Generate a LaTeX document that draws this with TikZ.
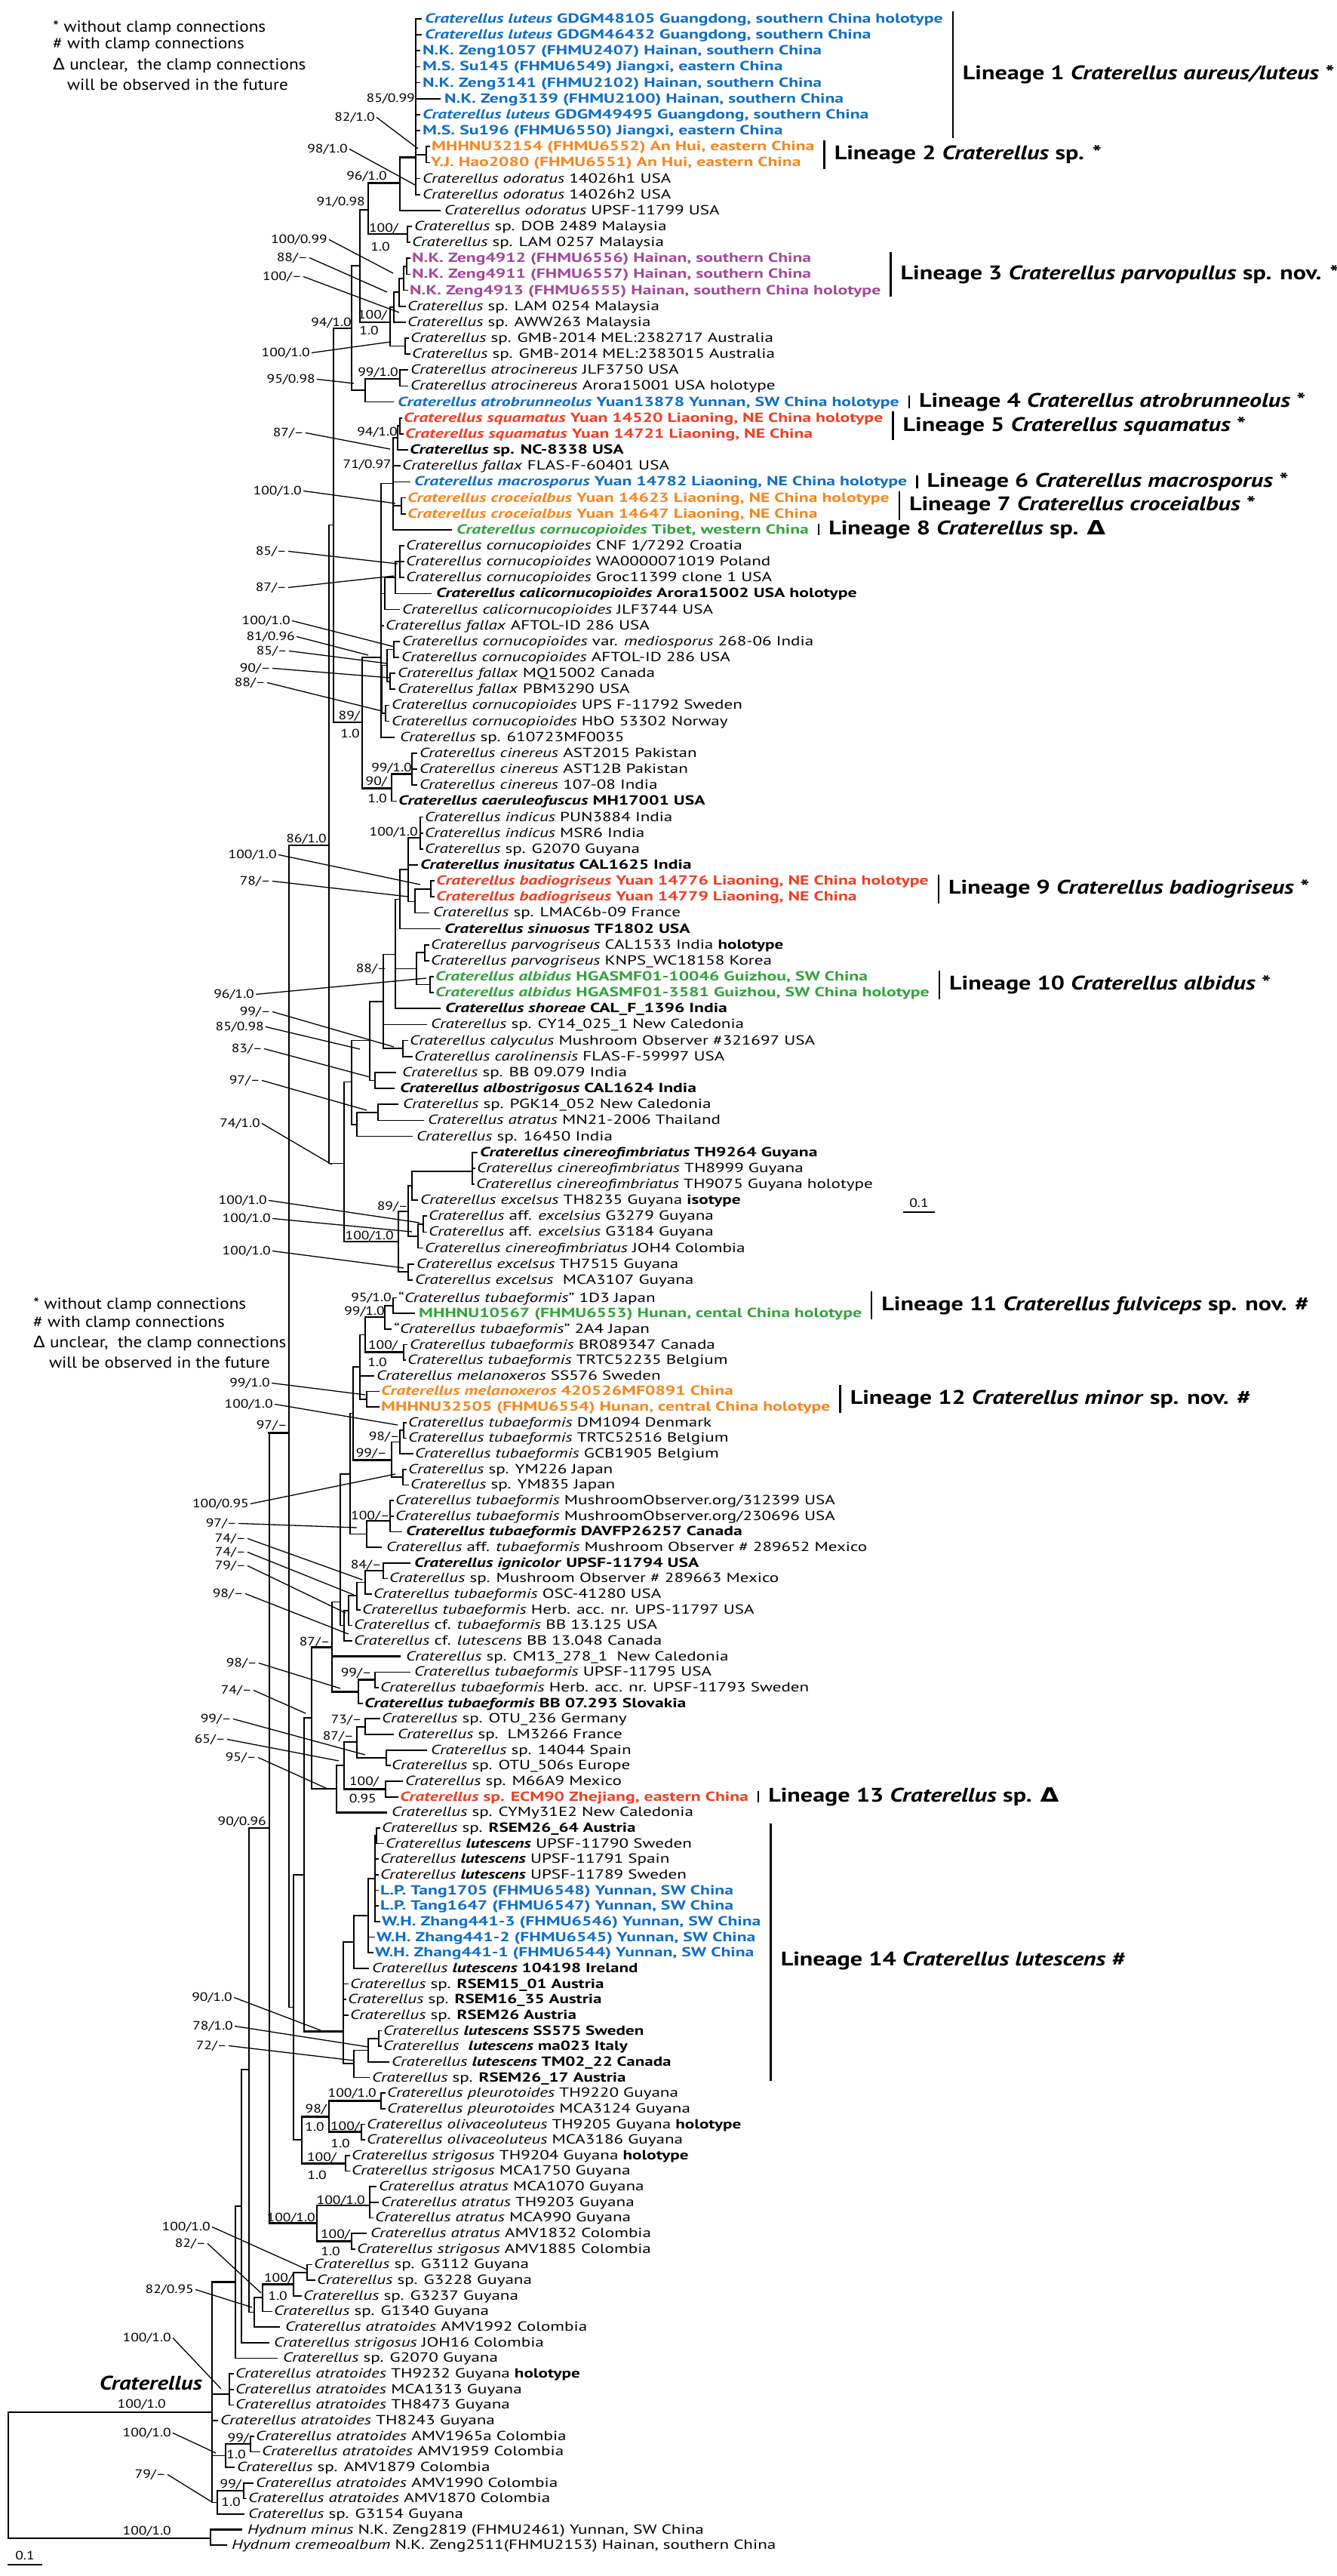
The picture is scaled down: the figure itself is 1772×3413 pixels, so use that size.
\documentclass[tikz,border=0pt]{standalone}
\usepackage{graphicx}
\usepackage{fontspec}
\setmainfont{PT Sans}
\newfontfamily\dejav{DejaVu Sans}
\definecolor{cblue}{RGB}{16,110,196}
\definecolor{corange}{RGB}{246,134,30}
\definecolor{cpurple}{RGB}{163,72,154}
\definecolor{cred}{RGB}{238,62,36}
\definecolor{cgreen}{RGB}{52,162,62}
\pgfmathdeclarefunction{ru}{1}{\pgfmathparse{25+(#1-1)*21.15}}
\pgfmathdeclarefunction{rl}{1}{\pgfmathparse{1719.5+(#1-1)*20.66}}
\newcommand\txf{\fontsize{17.5}{20}\selectfont}
\newcommand\spf{\fontsize{16}{18}\selectfont}
\newcommand\lbf{\fontsize{26}{29}\selectfont\bfseries}
\newcommand\lgf{\fontsize{21}{24}\selectfont}
\newcommand\gnf{\fontsize{26}{29}\selectfont\bfseries\itshape}
\newcommand\dl{{\dejav Δ}}
\newcommand\Cr{\textit{Craterellus}}
\newlength\cwa \newlength\cwb \newlength\cwc \newlength\cwd \newlength\cwe \newlength\cwf
\newcommand\bvu[3]{\draw[br] (#1,{ru(#2)}) -- (#1,{ru(#3)});}
\newcommand\bhu[3]{\draw[br] (#2,{ru(#1)}) -- (#3,{ru(#1)});}
\newcommand\bvl[3]{\draw[br] (#1,{rl(#2)}) -- (#1,{rl(#3)});}
\newcommand\bhl[3]{\draw[br] (#2,{rl(#1)}) -- (#3,{rl(#1)});}
\newcommand\tu[4]{\node[tx,text=#3] (u#1) at (#2,{ru(#1)+5.5}) {\scalebox{\sca}[1]{#4}};}
\newcommand\tub[4]{\node[tx,text=#3] (u#1) at (#2,{ru(#1)+5.5}) {\scalebox{\scb}[1]{\bfseries #4}};}
\newcommand\tl[4]{\node[tx,text=#3] (l#1) at (#2,{rl(#1)+5.5}) {\scalebox{\sca}[1]{#4}};}
\newcommand\tlb[4]{\node[tx,text=#3] (l#1) at (#2,{rl(#1)+5.5}) {\scalebox{\scb}[1]{\bfseries #4}};}
\newcommand\sv[4]{\node[sp] (#1) at (#2,{#3+5}) {\scalebox{\scc}[1]{#4}};}
\newcommand\ldr[3]{\draw[ld] ([xshift=2pt]#1.east) -- (#2,#3);}
\newcommand\lin[6]{%
 \path (#2.east) ++(13,0) coordinate (bx#1);
 \coordinate (bt#1) at (0,#3); \coordinate (bb#1) at (0,#4); \coordinate (bm#1) at (0,#5);
 \draw[lbar] (bx#1 |- bt#1) -- (bx#1 |- bb#1);
 \path (bx#1) ++(13,0) coordinate (lx#1);
 \node[lb] (lin#1) at (lx#1 |- bm#1) {\scalebox{\scd}[1]{#6}};}
\tikzset{
 br/.style={line width=1.7pt, line cap=rect},
 thk/.style={line width=2.7pt, line cap=rect},
 ld/.style={line width=1.3pt},
 tx/.style={anchor=base west, inner sep=0pt, font=\txf},
 sp/.style={anchor=base east, inner sep=0pt, font=\spf},
 lb/.style={anchor=west, inner sep=0pt, font=\lbf},
 lg/.style={anchor=base west, inner sep=0pt, font=\lgf},
 lbar/.style={line width=2.4pt}
}
\begin{document}
\settowidth\cwa{\txf\textit{Craterellus cornucopioides} var. \textit{mediosporus} 268-06 India\Cr{} sp. GMB-2014 MEL:2382717 Australia}
\pgfmathsetmacro\sca{1026/\cwa}
\settowidth\cwb{\txf\bfseries N.K. Zeng1057 (FHMU2407) Hainan, southern China\textit{Craterellus squamatus} Yuan 14721 Liaoning, NE China}
\pgfmathsetmacro\scb{1069/\cwb}
\settowidth\cwc{\spf 85/0.99100/0.9991/0.98}
\pgfmathsetmacro\scc{203/\cwc}
\settowidth\cwd{\lbf Lineage 13}
\pgfmathsetmacro\scd{153/\cwd}
\settowidth\cwe{\lgf * without clamp connections}
\pgfmathsetmacro\sce{282/\cwe}
\settowidth\cwf{\gnf Craterellus}
\pgfmathsetmacro\scf{136/\cwf}
\begin{tikzpicture}[x=1pt,y=-1pt]
\useasboundingbox[fill=white] (0,0) rectangle (1772,3413);
% ---------- legends
\node[lg] (lga1) at (70,42) {\scalebox{\sce}[1]{* without clamp connections}};
\node[lg] (lga2) at (70,64) {\scalebox{\sce}[1]{\# with clamp connections}};
\node[lg] (lga3) at (70,92) {\scalebox{\sce}[1]{\dl\ unclear,\ \ the clamp connections}};
\node[lg] (lga4) at (89,119) {\scalebox{\sce}[1]{will be observed in the future}};
\node[lg] (lgb1) at (44,1734) {\scalebox{\sce}[1]{* without clamp connections}};
\node[lg] (lgb2) at (44,1758) {\scalebox{\sce}[1]{\# with clamp connections}};
\node[lg] (lgb3) at (44,1785) {\scalebox{\sce}[1]{\dl\ unclear,\ \ the clamp connections}};
\node[lg] (lgb4) at (65,1812) {\scalebox{\sce}[1]{will be observed in the future}};
% ---------- upper tree branches
\bvu{551}{1}{12}
\bhu{1}{551}{558} \bhu{2}{551}{558}
\bhu{3}{551}{556} \bhu{4}{551}{556} \bhu{5}{551}{556} \bhu{7}{551}{556} \bhu{8}{551}{556}
\bhu{6}{551}{583}
\bvu{565}{9}{10} \bhu{9.5}{551}{565} \bhu{9}{565}{569} \bhu{10}{565}{569}
\bhu{11}{551}{556} \bhu{12}{551}{556}
\draw[thk] (530,{ru(9.66)}) -- (551,{ru(9.66)});
\bvu{530}{9.66}{13} \bhu{13}{530}{583}
\draw[thk] (488,{ru(11.3)}) -- (530,{ru(11.3)});
\bvu{488}{11.3}{14.48} \bhu{14.48}{488}{540}
\bvu{540}{14}{15} \bhu{14}{540}{545} \bhu{15}{540}{543}
\bhu{12.96}{477}{488}
\bvu{477}{12.96}{20} \bhu{20}{477}{517}
\bvu{539}{16}{17} \bhu{16}{539}{543} \bhu{17}{539}{543}
\bvu{535}{16.5}{18} \bhu{16.5}{535}{539} \bhu{18}{535}{540}
\bvu{529}{17.25}{19} \bhu{17.25}{529}{535} \bhu{19}{529}{537}
\bvu{522}{18.1}{20} \bhu{18.1}{522}{529} \bhu{20}{522}{537}
\bvu{537}{21}{22} \bhu{21}{537}{541} \bhu{22}{537}{543}
\bvu{517}{19.05}{21.5} \bhu{19.05}{517}{522} \bhu{21.5}{517}{537}
\draw[thk] (442,{ru(20.39)}) -- (466,{ru(20.39)});
\bvu{466}{16.46}{24.26} \bhu{16.46}{466}{477} \bhu{24.26}{466}{484}
\bvu{484}{23.55}{25} \bhu{23.55}{484}{530} \bhu{25}{484}{521}
\bvu{530}{23}{24} \bhu{23}{530}{540} \bhu{24}{530}{540}
\bvu{442}{20.39}{45.07} \bhu{45.07}{442}{480}
\bhu{32.7}{436}{442}
\bvu{530}{26}{27} \bhu{26}{530}{532} \bhu{27}{530}{534}
\bvu{527}{26.5}{28} \bhu{26.5}{527}{530} \bhu{28}{527}{540}
\bvu{521}{27.25}{33} \bhu{27.25}{521}{527} \bhu{29}{521}{530} \bhu{30}{521}{543}
\bvu{532}{31}{32} \bhu{31}{532}{537} \bhu{32}{532}{537} \bhu{31.5}{521}{532}
\bhu{33}{521}{598}
\bhu{30.1}{505}{521}
\bvu{530}{34}{36} \bhu{34}{530}{535} \bhu{35}{530}{535} \bhu{36}{530}{535}
\bvu{524}{35}{37} \bhu{35}{524}{530} \bhu{37}{524}{571}
\bvu{510}{36}{38} \bhu{36}{510}{524} \bhu{38}{510}{529}
\bhu{39}{505}{508}
\bvu{522}{40}{41} \bhu{40}{522}{529} \bhu{41}{522}{528}
\bvu{517}{42}{43} \bhu{42}{517}{523} \bhu{43}{517}{523}
\bvu{511}{44}{45} \bhu{44}{511}{515} \bhu{45}{511}{515}
\bvu{513}{40.5}{42.5} \bhu{40.5}{513}{522} \bhu{42.5}{513}{517}
\bvu{506}{41.5}{44.5} \bhu{41.5}{506}{513} \bhu{44.5}{506}{511}
\bhu{37}{505}{510} \bhu{43}{505}{506}
\bhu{46}{505}{522}
\bvu{505}{30.1}{46}
\bhu{41}{480}{505}
\bvu{480}{41}{49.2}
\bvu{546}{47}{49} \bhu{47}{546}{552} \bhu{48}{546}{552} \bhu{49}{546}{552}
\draw[thk] (519,{ru(48.3)}) -- (546,{ru(48.3)});
\bvu{519}{48.3}{50} \bhu{50}{519}{525}
\draw[thk] (480,{ru(49.2)}) -- (519,{ru(49.2)});
\bvu{436}{32.7}{72.7}
\draw[thk] (383,{ru(52.77)}) -- (436,{ru(52.77)});
\bvu{557}{51}{53} \bhu{51}{557}{560} \bhu{52}{557}{560} \bhu{53}{557}{560}
\draw[thk] (541,{ru(52.3)}) -- (557,{ru(52.3)});
\bhu{54}{541}{553}
\bvu{571}{55}{56} \bhu{55}{571}{575} \bhu{56}{571}{575}
\bhu{55.5}{550}{571}
\bhu{57}{550}{568}
\bvu{550}{55.5}{57} \bhu{56.3}{541}{550}
\bvu{541}{52.3}{56.3}
\bhu{54.3}{530}{541}
\bvu{530}{54.3}{58} \bhu{58}{530}{583}
\bhu{56.15}{524}{530}
\bvu{563}{59}{60} \bhu{59}{563}{568} \bhu{60}{563}{568}
\bvu{570}{61}{62} \bhu{61}{570}{574} \bhu{62}{570}{574}
\bvu{552}{59.5}{61.5} \bhu{59.5}{552}{563} \bhu{61.5}{552}{570}
\bhu{60.5}{524}{552}
\bvu{524}{56.15}{63} \bhu{63}{524}{583}
\bhu{59.6}{508}{524}
\bhu{64}{508}{565}
\bvu{534}{65}{66} \bhu{65}{534}{540} \bhu{66}{534}{546}
\bhu{65.5}{508}{534}
\bvu{508}{59.6}{65.5}
\bhu{62.55}{490}{508}
\bvu{497}{67}{68} \bhu{67}{497}{524} \bhu{68}{497}{522}
\bhu{67.5}{490}{497}
\bvu{490}{62.55}{67.5}
\bhu{65}{466}{490}
\bvu{501}{69}{70} \bhu{69}{501}{527} \bhu{70}{501}{561}
\bhu{69.5}{473}{501}
\bhu{71}{473}{546}
\bvu{473}{69.5}{71}
\bhu{70.25}{466}{473}
\bvu{466}{65}{70.25}
\bhu{67.6}{456}{466}
\bvu{456}{67.6}{77.6}
\bhu{72.7}{436}{456}
\draw[thk] (456,{ru(77.6)}) -- (528,{ru(77.6)});
\bvu{626}{72}{74} \bhu{72}{626}{632} \bhu{73}{626}{629} \bhu{74}{626}{628}
\draw[thk] (546,{ru(73.2)}) -- (626,{ru(73.2)});
\bhu{75}{546}{553}
\bvu{546}{73.2}{75}
\bhu{74.1}{541}{546}
\bvu{561}{76}{77} \bhu{76}{561}{565} \bhu{77}{561}{565}
\bhu{76.5}{554}{561}
\bhu{78}{554}{560}
\bvu{554}{76.5}{78}
\bhu{77.25}{541}{554}
\bvu{541}{74.1}{77.25}
\bhu{75.7}{528}{541}
\bvu{541}{79}{80} \bhu{79}{541}{548} \bhu{80}{541}{546}
\bhu{79.5}{528}{541}
\bvu{528}{75.7}{79.5}
\draw[br] (383,{ru(52.77)}) -- (383,{rl(46.5)});
% ---------- lower tree branches
\bvl{521}{1}{2} \bhl{1}{521}{525} \bhl{2}{521}{549}
\bvl{510}{1.5}{3} \bhl{1.5}{510}{521} \bhl{3}{510}{518}
\bvl{535}{4}{5} \bhl{4}{535}{539} \bhl{5}{535}{537}
\draw[thk] (484,{rl(4.5)}) -- (535,{rl(4.5)});
\bvl{484}{2.25}{4.5} \bhl{2.25}{484}{510}
\bhl{6}{477}{495}
\bvl{486}{7}{8} \bhl{7}{486}{502} \bhl{8}{486}{502}
\bhl{7.5}{477}{486}
\bvl{477}{3.375}{7.5} \bhl{3.375}{477}{484}
\bvl{535}{9}{10} \bhl{9}{535}{538} \bhl{10}{535}{538}
\bhl{9.5}{530}{535}
\bhl{11}{530}{547}
\bvl{530}{9.5}{11}
\bhl{10.25}{519}{530}
\bvl{534}{12}{13} \bhl{12}{534}{538} \bhl{13}{534}{541}
\bhl{12.5}{519}{534}
\bvl{519}{10.25}{12.5}
\draw[thk] (468,{rl(11.4)}) -- (519,{rl(11.4)});
\bvl{468}{5.44}{11.4} \bhl{5.44}{468}{477}
\bvl{464}{8.4}{16.15} \bhl{8.4}{464}{468}
\bvl{517}{14}{16} \bhl{14}{517}{521} \bhl{15}{517}{521} \bhl{16}{517}{532}
\draw[thk] (486,{rl(15.3)}) -- (517,{rl(15.3)});
\bvl{486}{15.3}{17} \bhl{17}{486}{505}
\bhl{16.15}{464}{486}
\bvl{508}{18}{19} \bhl{18}{508}{543} \bhl{19}{508}{513}
\draw[thk] (484,{rl(18.5)}) -- (508,{rl(18.5)});
\bvl{484}{18.5}{20} \bhl{20}{484}{492}
\bhl{19.25}{473}{484}
\bvl{473}{19.25}{21} \bhl{21}{473}{477}
\bhl{20.1}{462}{473}
\bvl{462}{20.1}{22} \bhl{22}{462}{466}
\bhl{21.05}{456}{462}
\bvl{456}{21.05}{23} \bhl{23}{456}{466}
\bhl{22}{451}{456}
\bvl{451}{12.3}{22} \bhl{12.3}{451}{464}
\bhl{20.5}{440}{451}
\draw[thk] (440,{rl(24)}) -- (530,{rl(24)});
\bvl{497}{25}{26} \bhl{25}{497}{543} \bhl{26}{497}{501}
\draw[thk] (475,{rl(25.5)}) -- (497,{rl(25.5)});
\bvl{475}{25.5}{27} \bhl{27}{475}{480}
\draw[thk] (440,{rl(26.25)}) -- (475,{rl(26.25)});
\bvl{440}{20.5}{26.25}
\draw[thk] (413,{rl(23.4)}) -- (440,{rl(23.4)});
\bvl{484}{28}{29} \bhl{28}{484}{503} \bhl{29}{484}{521}
\bvl{512}{30}{31} \bhl{30}{512}{565} \bhl{31}{512}{517}
\bvl{473}{28.5}{30.5} \bhl{28.5}{473}{484} \bhl{30.5}{473}{512}
\bhl{29.5}{456}{473}
\bvl{511}{32}{33} \bhl{32}{511}{533} \bhl{33}{511}{527}
\draw[thk] (456,{rl(32.5)}) -- (511,{rl(32.5)});
\bvl{456}{29.5}{32.5}
\bhl{31}{446}{456}
\draw[thk] (446,{rl(34)}) -- (512,{rl(34)});
\bvl{446}{31}{34}
\bhl{32.5}{413}{446}
\bvl{413}{23.4}{32.5}
\bhl{27.95}{403}{413}
\bvl{499}{35}{36} \bhl{35}{499}{503} \bhl{36}{499}{508}
\bvl{497}{35.5}{41} \bhl{35.5}{497}{499}
\bhl{37}{497}{501} \bhl{38}{497}{501} \bhl{39}{497}{501} \bhl{40}{497}{501} \bhl{41}{497}{503}
\bvl{488}{38.25}{43} \bhl{38.25}{488}{497} \bhl{42}{488}{496} \bhl{43}{488}{494}
\bvl{469}{40.6}{44} \bhl{40.6}{469}{488} \bhl{44}{469}{488}
\bhl{45}{455}{461} \bhl{46}{455}{458} \bhl{47}{455}{461}
\bvl{502}{48}{49} \bhl{48}{502}{505} \bhl{49}{502}{505}
\bvl{488}{48.5}{50} \bhl{48.5}{488}{502} \bhl{50}{488}{515}
\bvl{469}{49.25}{51} \bhl{49.25}{469}{488} \bhl{51}{469}{489}
\bvl{455}{42.3}{50.1} \bhl{42.3}{455}{469} \bhl{50.1}{455}{469}
\draw[thk] (403,{rl(48.05)}) -- (455,{rl(48.05)});
\bvl{403}{27.95}{48.05}
\bhl{38}{389}{403}
\bvl{505}{52}{53} \bhl{52}{505}{510} \bhl{53}{505}{510}
\draw[thk] (436,{rl(52.5)}) -- (505,{rl(52.5)});
\bvl{479}{54}{55} \bhl{54}{479}{483} \bhl{55}{479}{483}
\draw[thk] (436,{rl(54.5)}) -- (479,{rl(54.5)});
\bvl{436}{52.5}{54.5}
\draw[thk] (400,{rl(53.5)}) -- (436,{rl(53.5)});
\bvl{458}{56}{57} \bhl{56}{458}{463} \bhl{57}{458}{463}
\draw[thk] (400,{rl(56.5)}) -- (458,{rl(56.5)});
\bvl{400}{53.5}{56.5}
\bhl{55}{389}{400}
\bvl{389}{38}{55}
\bhl{46.5}{383}{389}
\draw[thk] (356,{rl(9.65)}) -- (383,{rl(9.65)});
\bvl{357}{9.65}{60.35}
\bvl{490}{58}{60} \bhl{58}{490}{498} \bhl{59}{490}{501} \bhl{60}{490}{494}
\draw[thk] (420,{rl(59.2)}) -- (490,{rl(59.2)});
\bvl{466}{61}{62} \bhl{61}{466}{485} \bhl{62}{466}{470}
\draw[thk] (420,{rl(61.5)}) -- (466,{rl(61.5)});
\bvl{420}{59.2}{61.5}
\draw[thk] (357,{rl(60.35)}) -- (420,{rl(60.35)});
\draw[thk] (330,{rl(35)}) -- (357,{rl(35)});
\bvl{330}{35}{66.05}
\bvl{407}{63}{64} \bhl{63}{407}{413} \bhl{64}{407}{417}
\bhl{63.5}{389}{407}
\bvl{389}{63.5}{65} \bhl{65}{389}{399}
\draw[thk] (348,{rl(64.25)}) -- (389,{rl(64.25)});
\bvl{348}{64.25}{66} \bhl{66}{348}{360}
\bhl{65.1}{337}{348}
\bvl{337}{65.1}{67} \bhl{67}{337}{370}
\bhl{66.05}{330}{337}
\bhl{50.5}{320}{330}
\bvl{320}{50.5}{68} \bhl{68}{320}{356}
\bhl{59.25}{312}{320}
\bvl{312}{59.25}{69} \bhl{69}{312}{367}
\draw[thk] (281,{rl(64.1)}) -- (312,{rl(64.1)});
\bvl{304}{70}{72} \bhl{70}{304}{309} \bhl{71}{304}{309} \bhl{72}{304}{309}
\draw[thk] (281,{rl(71.3)}) -- (304,{rl(71.3)});
\bhl{73}{281}{288}
\bvl{332}{74}{75} \bhl{74}{332}{336} \bhl{75}{332}{344}
\draw[thk] (299,{rl(74.5)}) -- (332,{rl(74.5)});
\bvl{299}{74.5}{76} \bhl{76}{299}{310}
\bhl{75.25}{281}{299}
\bvl{323}{77}{78} \bhl{77}{323}{335} \bhl{78}{323}{326}
\draw[thk] (288,{rl(77.5)}) -- (323,{rl(77.5)});
\bvl{288}{77.5}{79} \draw[thk] (288,{rl(79)}) -- (323,{rl(79)});
\bhl{78.25}{281}{288}
\bvl{281}{64.1}{78.25}
\draw[thk] (11,3196) -- (281,3196);
\draw[thk] (11,{rl(80.55)}) -- (279,{rl(80.55)});
\draw[br] (11,3196) -- (11,{rl(80.55)});
\bvl{279}{80}{81} \draw[thk] (279,{rl(80)}) -- (320,{rl(80)}); \bhl{81}{279}{300}
\draw[thk] (11,3398) -- (55,3398);
\node[sp, anchor=base] (scl) at (33,3391) {\scalebox{\scc}[1]{0.1}};
\draw[thk] (1198,1606) -- (1238,1606);
\node[sp, anchor=base] (scu) at (1218,1599) {\scalebox{\scc}[1]{0.1}};
\node[anchor=base east, inner sep=0pt, font=\gnf] (gen) at (268,3166) {\scalebox{\scf}[1]{Craterellus}};
% ---------- upper taxa
\tub{1}{563}{cblue}{\textit{Craterellus luteus} GDGM48105 Guangdong, southern China holotype}
\tub{2}{563}{cblue}{\textit{Craterellus luteus} GDGM46432 Guangdong, southern China}
\tub{3}{560}{cblue}{N.K. Zeng1057 (FHMU2407) Hainan, southern China}
\tub{4}{560}{cblue}{M.S. Su145 (FHMU6549) Jiangxi, eastern China}
\tub{5}{560}{cblue}{N.K. Zeng3141 (FHMU2102) Hainan, southern China}
\tub{6}{589}{cblue}{N.K. Zeng3139 (FHMU2100) Hainan, southern China}
\tub{7}{560}{cblue}{\textit{Craterellus luteus} GDGM49495 Guangdong, southern China}
\tub{8}{560}{cblue}{M.S. Su196 (FHMU6550) Jiangxi, eastern China}
\tub{9}{572}{corange}{MHHNU32154 (FHMU6552) An Hui, eastern China}
\tub{10}{571}{corange}{Y.J. Hao2080 (FHMU6551) An Hui, eastern China}
\tu{11}{560}{black}{\textit{Craterellus odoratus} 14026h1 USA}
\tu{12}{560}{black}{\textit{Craterellus odoratus} 14026h2 USA}
\tu{13}{589}{black}{\textit{Craterellus odoratus} UPSF-11799 USA}
\tu{14}{549}{black}{\Cr{} sp. DOB 2489 Malaysia}
\tu{15}{546}{black}{\Cr{} sp. LAM 0257 Malaysia}
\tub{16}{546}{cpurple}{N.K. Zeng4912 (FHMU6556) Hainan, southern China}
\tub{17}{546}{cpurple}{N.K. Zeng4911 (FHMU6557) Hainan, southern China}
\tub{18}{543}{cpurple}{N.K. Zeng4913 (FHMU6555) Hainan, southern China holotype}
\tu{19}{540}{black}{\Cr{} sp. LAM 0254 Malaysia}
\tu{20}{540}{black}{\Cr{} sp. AWW263 Malaysia}
\tu{21}{544}{black}{\Cr{} sp. GMB-2014 MEL:2382717 Australia}
\tu{22}{546}{black}{\Cr{} sp. GMB-2014 MEL:2383015 Australia}
\tu{23}{544}{black}{\textit{Craterellus atrocinereus} JLF3750 USA}
\tu{24}{544}{black}{\textit{Craterellus atrocinereus} Arora15001 USA holotype}
\tub{25}{527}{cblue}{\textit{Craterellus atrobrunneolus} Yuan13878 Yunnan, SW China holotype}
\tub{26}{535}{cred}{\textit{Craterellus squamatus} Yuan 14520 Liaoning, NE China holotype}
\tub{27}{537}{cred}{\textit{Craterellus squamatus} Yuan 14721 Liaoning, NE China}
\tub{28}{543}{black}{\Cr{} sp. NC-8338 USA}
\tu{29}{533}{black}{\textit{Craterellus fallax} FLAS-F-60401 USA}
\tub{30}{549}{cblue}{\textit{Craterellus macrosporus} Yuan 14782 Liaoning, NE China holotype}
\tub{31}{540}{corange}{\textit{Craterellus croceialbus} Yuan 14623 Liaoning, NE China holotype}
\tub{32}{540}{corange}{\textit{Craterellus croceialbus} Yuan 14647 Liaoning, NE China}
\tub{33}{605}{cgreen}{\textit{Craterellus cornucopioides} Tibet, western China}
\tu{34}{538}{black}{\textit{Craterellus cornucopioides} CNF 1/7292 Croatia}
\tu{35}{538}{black}{\textit{Craterellus cornucopioides} WA0000071019 Poland}
\tu{36}{538}{black}{\textit{Craterellus cornucopioides} Groc11399 clone 1 USA}
\tub{37}{578}{black}{\textit{Craterellus calicornucopioides} Arora15002 USA holotype}
\tu{38}{533}{black}{\textit{Craterellus calicornucopioides} JLF3744 USA}
\tu{39}{511}{black}{\textit{Craterellus fallax} AFTOL-ID 286 USA}
\tu{40}{533}{black}{\textit{Craterellus cornucopioides} var. \textit{mediosporus} 268-06 India}
\tu{41}{532}{black}{\textit{Craterellus cornucopioides} AFTOL-ID 286 USA}
\tu{42}{527}{black}{\textit{Craterellus fallax} MQ15002 Canada}
\tu{43}{527}{black}{\textit{Craterellus fallax} PBM3290 USA}
\tu{44}{519}{black}{\textit{Craterellus cornucopioides} UPS F-11792 Sweden}
\tu{45}{519}{black}{\textit{Craterellus cornucopioides} HbO 53302 Norway}
\tu{46}{530}{black}{\Cr{} sp. 610723MF0035}
\tu{47}{556}{black}{\textit{Craterellus cinereus} AST2015 Pakistan}
\tu{48}{556}{black}{\textit{Craterellus cinereus} AST12B Pakistan}
\tu{49}{556}{black}{\textit{Craterellus cinereus} 107-08 India}
\tub{50}{528}{black}{\textit{Craterellus caeruleofuscus} MH17001 USA}
\tu{51}{563}{black}{\textit{Craterellus indicus} PUN3884 India}
\tu{52}{563}{black}{\textit{Craterellus indicus} MSR6 India}
\tu{53}{563}{black}{\Cr{} sp. G2070 Guyana}
\tub{54}{557}{black}{\textit{Craterellus inusitatus} CAL1625 India}
\tub{55}{578}{cred}{\textit{Craterellus badiogriseus} Yuan 14776 Liaoning, NE China holotype}
\tub{56}{578}{cred}{\textit{Craterellus badiogriseus} Yuan 14779 Liaoning, NE China}
\tu{57}{574}{black}{\Cr{} sp. LMAC6b-09 France}
\tub{58}{589}{black}{\textit{Craterellus sinuosus} TF1802 USA}
\tu{59}{571}{black}{\textit{Craterellus parvogriseus} CAL1533 India \textbf{holotype}}
\tu{60}{571}{black}{\textit{Craterellus parvogriseus} KNPS\_WC18158 Korea}
\tub{61}{577}{cgreen}{\textit{Craterellus albidus} HGASMF01-10046 Guizhou, SW China}
\tub{62}{577}{cgreen}{\textit{Craterellus albidus} HGASMF01-3581 Guizhou, SW China holotype}
\tub{63}{590}{black}{\textit{Craterellus shoreae} CAL\_F\_1396 India}
\tu{64}{571}{black}{\Cr{} sp. CY14\_025\_1 New Caledonia}
\tu{65}{543}{black}{\textit{Craterellus calyculus} Mushroom Observer \#321697 USA}
\tu{66}{549}{black}{\textit{Craterellus carolinensis} FLAS-F-59997 USA}
\tu{67}{533}{black}{\Cr{} sp. BB 09.079 India}
\tub{68}{530}{black}{\textit{Craterellus albostrigosus} CAL1624 India}
\tu{69}{534}{black}{\Cr{} sp. PGK14\_052 New Caledonia}
\tu{70}{567}{black}{\textit{Craterellus atratus} MN21-2006 Thailand}
\tu{71}{552}{black}{\Cr{} sp. 16450 India}
\tub{72}{636}{black}{\textit{Craterellus cinereofimbriatus} TH9264 Guyana}
\tu{73}{632}{black}{\textit{Craterellus cinereofimbriatus} TH8999 Guyana}
\tu{74}{631}{black}{\textit{Craterellus cinereofimbriatus} TH9075 Guyana holotype}
\tu{75}{557}{black}{\textit{Craterellus excelsus} TH8235 Guyana \textbf{isotype}}
\tu{76}{568}{black}{\Cr{} aff. \textit{excelsius} G3279 Guyana}
\tu{77}{568}{black}{\Cr{} aff. \textit{excelsius} G3184 Guyana}
\tu{78}{563}{black}{\textit{Craterellus cinereofimbriatus} JOH4 Colombia}
\tu{79}{552}{black}{\textit{Craterellus excelsus} TH7515 Guyana}
\tu{80}{550}{black}{\textit{Craterellus excelsus}\ \ MCA3107 Guyana}
% ---------- lower taxa
\tl{1}{528}{black}{“\textit{Craterellus tubaeformis}” 1D3 Japan}
\tlb{2}{555}{cgreen}{MHHNU10567 (FHMU6553) Hunan, cental China holotype}
\tl{3}{522}{black}{“\textit{Craterellus tubaeformis}” 2A4 Japan}
\tl{4}{543}{black}{\textit{Craterellus tubaeformis} BR089347 Canada}
\tl{5}{540}{black}{\textit{Craterellus tubaeformis} TRTC52235 Belgium}
\tl{6}{499}{black}{\textit{Craterellus melanoxeros} SS576 Sweden}
\tlb{7}{505}{corange}{\textit{Craterellus melanoxeros} 420526MF0891 China}
\tlb{8}{505}{corange}{MHHNU32505 (FHMU6554) Hunan, central China holotype}
\tl{9}{541}{black}{\textit{Craterellus tubaeformis} DM1094 Denmark}
\tl{10}{541}{black}{\textit{Craterellus tubaeformis} TRTC52516 Belgium}
\tl{11}{550}{black}{\textit{Craterellus tubaeformis} GCB1905 Belgium}
\tl{12}{541}{black}{\Cr{} sp. YM226 Japan}
\tl{13}{544}{black}{\Cr{} sp. YM835 Japan}
\tl{14}{524}{black}{\textit{Craterellus tubaeformis} MushroomObserver.org/312399 USA}
\tl{15}{524}{black}{\textit{Craterellus tubaeformis} MushroomObserver.org/230696 USA}
\tlb{16}{538}{black}{\textit{Craterellus tubaeformis} DAVFP26257 Canada}
\tl{17}{512}{black}{\Cr{} aff. \textit{tubaeformis} Mushroom Observer \# 289652 Mexico}
\tlb{18}{549}{black}{\textit{Craterellus ignicolor} UPSF-11794 USA}
\tl{19}{516}{black}{\Cr{} sp. Mushroom Observer \# 289663 Mexico}
\tl{20}{495}{black}{\textit{Craterellus tubaeformis} OSC-41280 USA}
\tl{21}{480}{black}{\textit{Craterellus tubaeformis} Herb. acc. nr. UPS-11797 USA}
\tl{22}{469}{black}{\Cr{} cf. \textit{tubaeformis} BB 13.125 USA}
\tl{23}{469}{black}{\Cr{} cf. \textit{lutescens} BB 13.048 Canada}
\tl{24}{538}{black}{\Cr{} sp. CM13\_278\_1\ \ New Caledonia}
\tl{25}{549}{black}{\textit{Craterellus tubaeformis} UPSF-11795 USA}
\tl{26}{504}{black}{\textit{Craterellus tubaeformis} Herb. acc. nr. UPSF-11793 Sweden}
\tlb{27}{483}{black}{\textit{Craterellus tubaeformis} BB 07.293 Slovakia}
\tl{28}{506}{black}{\Cr{} sp. OTU\_236 Germany}
\tl{29}{527}{black}{\Cr{} sp.\ \ LM3266 France}
\tl{30}{571}{black}{\Cr{} sp. 14044 Spain}
\tl{31}{519}{black}{\Cr{} sp. OTU\_506s Europe}
\tl{32}{537}{black}{\Cr{} sp. M66A9 Mexico}
\tlb{33}{530}{cred}{\Cr{} sp. ECM90 Zhejiang, eastern China}
\tl{34}{519}{black}{\Cr{} sp. CYMy31E2 New Caledonia}
\tl{35}{506}{black}{\Cr{} sp. \textbf{RSEM26\_64 Austria}}
\tl{36}{511}{black}{\Cr{} \textbf{\textit{lutescens}} UPSF-11790 Sweden}
\tl{37}{504}{black}{\Cr{} \textbf{\textit{lutescens}} UPSF-11791 Spain}
\tl{38}{504}{black}{\Cr{} \textbf{\textit{lutescens}} UPSF-11789 Sweden}
\tlb{39}{504}{cblue}{L.P. Tang1705 (FHMU6548) Yunnan, SW China}
\tlb{40}{504}{cblue}{L.P. Tang1647 (FHMU6547) Yunnan, SW China}
\tlb{41}{506}{cblue}{W.H. Zhang441-3 (FHMU6546) Yunnan, SW China}
\tlb{42}{499}{cblue}{W.H. Zhang441-2 (FHMU6545) Yunnan, SW China}
\tlb{43}{497}{cblue}{W.H. Zhang441-1 (FHMU6544) Yunnan, SW China}
\tl{44}{493}{black}{\Cr{} \textbf{\textit{lutescens} 104198 Ireland}}
\tl{45}{464}{black}{\Cr{} sp. \textbf{RSEM15\_01 Austria}}
\tl{46}{461}{black}{\Cr{} sp. \textbf{RSEM16\_35 Austria}}
\tl{47}{464}{black}{\Cr{} sp. \textbf{RSEM26 Austria}}
\tl{48}{508}{black}{\Cr{} \textbf{\textit{lutescens} SS575 Sweden}}
\tl{49}{508}{black}{\Cr{}\ \ \textbf{\textit{lutescens} ma023 Italy}}
\tl{50}{519}{black}{\Cr{} \textbf{\textit{lutescens} TM02\_22 Canada}}
\tl{51}{493}{black}{\Cr{} sp. \textbf{RSEM26\_17 Austria}}
\tl{52}{513}{black}{\textit{Craterellus pleurotoides} TH9220 Guyana}
\tl{53}{513}{black}{\textit{Craterellus pleurotoides} MCA3124 Guyana}
\tl{54}{486}{black}{\textit{Craterellus olivaceoluteus} TH9205 Guyana \textbf{holotype}}
\tl{55}{486}{black}{\textit{Craterellus olivaceoluteus} MCA3186 Guyana}
\tl{56}{466}{black}{\textit{Craterellus strigosus} TH9204 Guyana \textbf{holotype}}
\tl{57}{466}{black}{\textit{Craterellus strigosus} MCA1750 Guyana}
\tl{58}{502}{black}{\textit{Craterellus atratus} MCA1070 Guyana}
\tl{59}{505}{black}{\textit{Craterellus atratus} TH9203 Guyana}
\tl{60}{497}{black}{\textit{Craterellus atratus} MCA990 Guyana}
\tl{61}{491}{black}{\textit{Craterellus atratus} AMV1832 Colombia}
\tl{62}{473}{black}{\textit{Craterellus strigosus} AMV1885 Colombia}
\tl{63}{416}{black}{\Cr{} sp. G3112 Guyana}
\tl{64}{420}{black}{\Cr{} sp. G3228 Guyana}
\tl{65}{402}{black}{\Cr{} sp. G3237 Guyana}
\tl{66}{363}{black}{\Cr{} sp. G1340 Guyana}
\tl{67}{378}{black}{\textit{Craterellus atratoides} AMV1992 Colombia}
\tl{68}{363}{black}{\textit{Craterellus strigosus} JOH16 Colombia}
\tl{69}{375}{black}{\Cr{} sp. G2070 Guyana}
\tl{70}{312}{black}{\textit{Craterellus atratoides} TH9232 Guyana \textbf{holotype}}
\tl{71}{312}{black}{\textit{Craterellus atratoides} MCA1313 Guyana}
\tl{72}{312}{black}{\textit{Craterellus atratoides} TH8473 Guyana}
\tl{73}{292}{black}{\textit{Craterellus atratoides} TH8243 Guyana}
\tl{74}{339}{black}{\textit{Craterellus atratoides} AMV1965a Colombia}
\tl{75}{347}{black}{\textit{Craterellus atratoides} AMV1959 Colombia}
\tl{76}{314}{black}{\Cr{} sp. AMV1879 Colombia}
\tl{77}{339}{black}{\textit{Craterellus atratoides} AMV1990 Colombia}
\tl{78}{329}{black}{\textit{Craterellus atratoides} AMV1870 Colombia}
\tl{79}{329}{black}{\Cr{} sp. G3154 Guyana}
\tl{80}{328}{black}{\textit{Hydnum minus} N.K. Zeng2819 (FHMU2461) Yunnan, SW China}
\tl{81}{307}{black}{\textit{Hydnum cremeoalbum} N.K. Zeng2511(FHMU2153) Hainan, southern China}
% ---------- support values upper
\sv{s1}{550}{130}{85/0.99}
\sv{s2}{497}{155}{82/1.0} \ldr{s2}{554}{197}
\sv{s3}{461}{197}{98/1.0} \ldr{s3}{550}{245}
\sv{s4}{513}{233}{96/1.0}
\sv{s5}{484}{267}{91/0.98}
\sv{s6}{528}{302}{100/}
\sv{s7}{517}{327}{1.0}
\sv{s8}{434}{317}{100/0.99} \ldr{s8}{521}{362}
\sv{s9}{408}{341}{88/–} \ldr{s9}{513}{387}
\sv{s10}{400}{366}{100/–} \ldr{s10}{529}{414}
\sv{s11}{513}{417}{100/}
\sv{s12}{502}{438}{1.0}
\sv{s13}{466}{427}{94/1.0}
\sv{s14}{411}{467}{100/1.0} \ldr{s14}{517}{453}
\sv{s15}{528}{493}{99/1.0}
\sv{s16}{418}{502}{95/0.98} \ldr{s16}{469}{508}
\sv{s17}{527}{572}{94/1.0}
\sv{s18}{403}{573}{87/–} \ldr{s18}{517}{595}
\sv{s19}{519}{615}{71/0.97}
\sv{s20}{400}{650}{100/1.0} \ldr{s20}{524}{667}
\sv{s21}{380}{730}{85/–} \ldr{s21}{527}{747}
\sv{s22}{380}{778}{87/–} \ldr{s22}{522}{763}
\sv{s23}{385}{822}{100/1.0} \ldr{s23}{523}{857}
\sv{s24}{391}{843}{81/0.96} \ldr{s24}{488}{868}
\sv{s25}{381}{862}{85/–} \ldr{s25}{513}{879}
\sv{s26}{359}{885}{90/–} \ldr{s26}{517}{898}
\sv{s27}{352}{904}{88/–} \ldr{s27}{506}{942}
\sv{s28}{477}{948}{89/}
\sv{s29}{477}{972}{1.0}
\sv{s30}{546}{1017}{99/1.0}
\sv{s31}{513}{1035}{90/}
\sv{s32}{513}{1058}{1.0}
\sv{s33}{554}{1102}{100/1.0}
\sv{s34}{433}{1111}{86/1.0}
\sv{s35}{367}{1132}{100/1.0} \ldr{s35}{557}{1172}
\sv{s36}{359}{1167}{78/–} \ldr{s36}{541}{1188}
\sv{s37}{513}{1283}{88/–}
\sv{s38}{337}{1317}{96/1.0} \ldr{s38}{565}{1296}
\sv{s39}{359}{1340}{99/–} \ldr{s39}{522}{1387}
\sv{s40}{350}{1360}{85/0.98} \ldr{s40}{477}{1390}
\sv{s41}{348}{1389}{83/–} \ldr{s41}{490}{1427}
\sv{s42}{345}{1431}{97/–} \ldr{s42}{486}{1471}
\sv{s43}{345}{1488}{74/1.0} \ldr{s43}{440}{1543}
\sv{s44}{541}{1598}{89/–}
\sv{s45}{354}{1590}{100/1.0} \ldr{s45}{556}{1620}
\sv{s46}{359}{1614}{100/1.0} \ldr{s46}{546}{1632}
\sv{s47}{522}{1637}{100/1.0}
\sv{s48}{359}{1657}{100/1.0} \ldr{s48}{535}{1680}
% ---------- support values lower
\sv{s49}{519}{1719}{95/1.0}
\sv{s50}{510}{1737}{99/1.0}
\sv{s51}{527}{1782}{100/}
\sv{s52}{513}{1805}{1.0}
\sv{s53}{358}{1832}{99/1.0} \ldr{s53}{484}{1848}
\sv{s54}{362}{1860}{100/1.0} \ldr{s54}{527}{1888}
\sv{s55}{381}{1888}{97/–}
\sv{s56}{530}{1903}{98/–}
\sv{s57}{513}{1925}{99/–}
\sv{s58}{330}{1992}{100/0.95} \ldr{s58}{524}{1953}
\sv{s59}{517}{2008}{100/–}
\sv{s60}{314}{2018}{97/–} \ldr{s60}{473}{2024}
\sv{s61}{326}{2038}{74/–} \ldr{s61}{480}{2093}
\sv{s62}{326}{2056}{74/–} \ldr{s62}{469}{2113}
\sv{s63}{506}{2073}{84/–}
\sv{s64}{326}{2074}{79/–} \ldr{s64}{458}{2137}
\sv{s65}{323}{2111}{98/–} \ldr{s65}{462}{2165}
\sv{s66}{438}{2175}{87/–}
\sv{s67}{341}{2203}{98/–} \ldr{s67}{451}{2237}
\sv{s68}{493}{2216}{99/–}
\sv{s69}{334}{2239}{74/–} \ldr{s69}{405}{2270}
\sv{s70}{307}{2277}{99/–} \ldr{s70}{484}{2325}
\sv{s71}{480}{2278}{73/–}
\sv{s72}{469}{2300}{87/–}
\sv{s73}{299}{2304}{65/–} \ldr{s73}{449}{2333}
\sv{s74}{340}{2328}{95/–} \ldr{s74}{434}{2370}
\sv{s75}{502}{2360}{100/}
\sv{s76}{499}{2383}{0.95}
\sv{s77}{353}{2413}{90/0.96}
\sv{s78}{308}{2646}{90/1.0} \ldr{s78}{425}{2690}
\sv{s79}{309}{2684}{78/1.0} \ldr{s79}{488}{2712}
\sv{s80}{301}{2710}{72/–} \ldr{s80}{469}{2730}
\sv{s81}{499}{2773}{100/1.0}
\sv{s82}{433}{2794}{98/}
\sv{s83}{430}{2818}{1.0}
\sv{s84}{477}{2817}{100/}
\sv{s85}{464}{2840}{1.0}
\sv{s86}{446}{2858}{100/}
\sv{s87}{433}{2882}{1.0}
\sv{s88}{484}{2915}{100/1.0}
\sv{s89}{418}{2938}{100/1.0}
\sv{s90}{464}{2960}{100/}
\sv{s91}{451}{2983}{1.0}
\sv{s92}{279}{2950}{100/1.0} \ldr{s92}{407}{3007}
\sv{s93}{273}{2972}{82/–} \ldr{s93}{346}{3038}
\sv{s94}{389}{3018}{100/}
\sv{s95}{381}{3042}{1.0}
\sv{s96}{257}{3033}{82/0.95} \ldr{s96}{334}{3057}
\sv{s97}{227}{3097}{100/1.0} \ldr{s97}{293}{3165}
\sv{s98}{220}{3185}{100/1.0}
\sv{s99}{227}{3223}{100/1.0} \ldr{s99}{286}{3250}
\sv{s100}{330}{3230}{99/}
\sv{s101}{326}{3252}{1.0}
\sv{s102}{220}{3278}{79/–} \ldr{s102}{281}{3315}
\sv{s103}{320}{3291}{99/}
\sv{s104}{319}{3315}{1.0}
\sv{s105}{227}{3353}{100/1.0}
% ---------- lineage bars and labels
\lin{1}{u1}{{ru(0.55)}}{{ru(8.45)}}{{ru(4.5)}}{Lineage 1 \textit{Craterellus aureus/luteus} *}
\lin{2}{u9}{{ru(8.6)}}{{ru(10.4)}}{{ru(9.5)}}{Lineage 2 \textit{Craterellus} sp. *}
\lin{3}{u18}{{ru(15.6)}}{{ru(18.4)}}{{ru(17)}}{Lineage 3 \textit{Craterellus parvopullus} sp. nov. *}
\lin{4}{u25}{{ru(24.6)}}{{ru(25.4)}}{{ru(25)}}{Lineage 4 \textit{Craterellus atrobrunneolus} *}
\lin{5}{u26}{{ru(25.6)}}{{ru(27.4)}}{{ru(26.5)}}{Lineage 5 \textit{Craterellus squamatus} *}
\lin{6}{u30}{{ru(29.6)}}{{ru(30.4)}}{{ru(30)}}{Lineage 6 \textit{Craterellus macrosporus} *}
\lin{7}{u31}{{ru(30.6)}}{{ru(32.4)}}{{ru(31.5)}}{Lineage 7 \textit{Craterellus croceialbus} *}
\lin{8}{u33}{{ru(32.65)}}{{ru(33.35)}}{{ru(33)}}{Lineage 8 \textit{Craterellus} sp. \dl}
\lin{9}{u55}{{ru(54.6)}}{{ru(56.4)}}{{ru(55.5)}}{Lineage 9 \textit{Craterellus badiogriseus} *}
\lin{10}{u62}{{ru(60.6)}}{{ru(62.4)}}{{ru(61.5)}}{Lineage 10 \textit{Craterellus albidus} *}
\lin{11}{l2}{{rl(0.6)}}{{rl(2.4)}}{{rl(1.5)}}{Lineage 11 \textit{Craterellus fulviceps} sp. nov. \#}
\lin{12}{l8}{{rl(6.6)}}{{rl(8.4)}}{{rl(7.5)}}{Lineage 12 \textit{Craterellus minor} sp. nov. \#}
\lin{13}{l33}{{rl(32.65)}}{{rl(33.35)}}{{rl(33)}}{Lineage 13 \textit{Craterellus} sp. \dl}
\lin{14}{l41}{{rl(34.7)}}{{rl(51.2)}}{{rl(43.5)}}{Lineage 14 \textit{Craterellus lutescens} \#}
\end{tikzpicture}
\end{document}
